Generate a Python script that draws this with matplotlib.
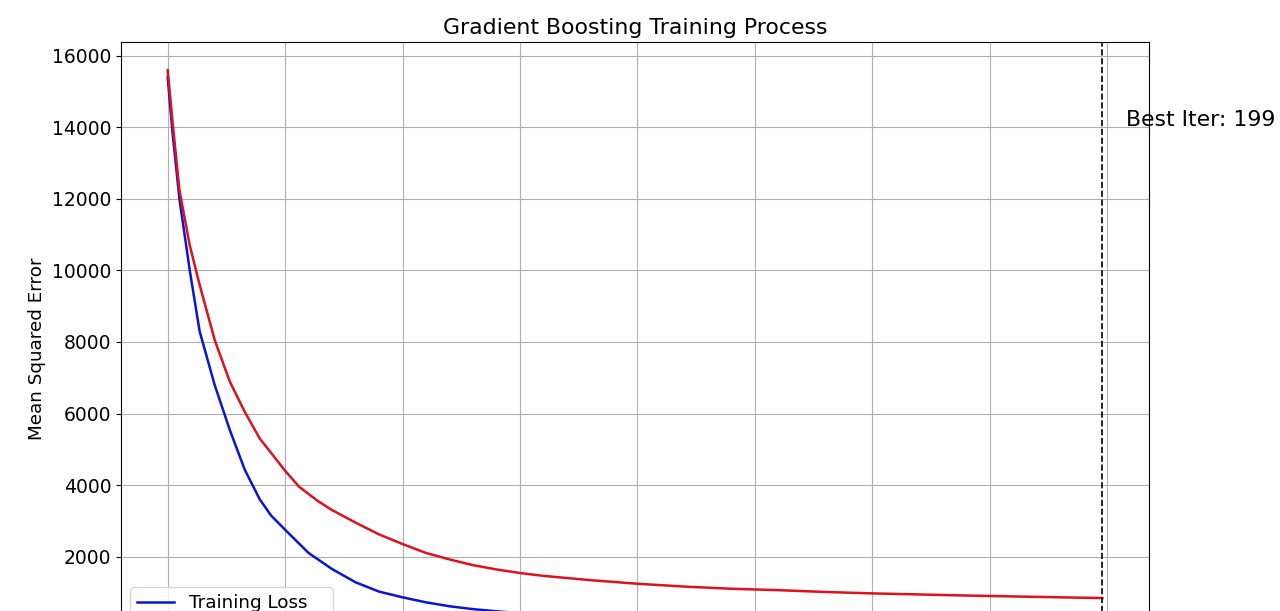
import matplotlib
matplotlib.use('Agg')
import matplotlib.pyplot as plt

best_iter = 199

train_it = [0, 1, 2.5, 4.7, 6.8, 10, 13.2, 16.4, 19.6, 22, 25, 30, 35, 40, 45, 50, 55, 60, 65, 70, 75, 85, 100, 120, 140, 160, 180, 199]
train_loss = [15400, 13900, 12000, 10000, 8300, 6800, 5550, 4430, 3600, 3150, 2750, 2100, 1650, 1280, 1020, 860, 720, 610, 530, 470, 420, 360, 300, 250, 210, 180, 160, 145]

val_it = [0, 1, 2.5, 4.7, 6.8, 10, 13.2, 16.4, 19.6, 22, 25, 28, 32, 35, 40, 45, 50, 55, 60, 65, 70, 75, 80, 90, 100, 110, 120, 130, 140, 150, 160, 170, 180, 190, 199]
val_loss = [15600, 14200, 12250, 10700, 9600, 8060, 6900, 6050, 5300, 4900, 4400, 3950, 3550, 3300, 2950, 2620, 2350, 2100, 1920, 1760, 1640, 1540, 1460, 1340, 1240, 1160, 1100, 1060, 1010, 970, 940, 910, 885, 860, 840]

fig = plt.figure(figsize=(12.8, 6.11), dpi=100)
ax = fig.add_axes([0.0945, -0.0736, 0.8032, 1.0049])

ax.plot(train_it, train_loss, color='#0a14d8', lw=1.8, label='Training Loss')
ax.plot(val_it, val_loss, color='#e0101c', lw=1.8, label='Validation Loss')
ax.axvline(best_iter, color='black', ls='--', lw=1.2)
ax.text(best_iter + 5, 14200, f'Best Iter: {best_iter}', fontsize=15.8, va='center')

ax.set_xlim(-9.95, 208.95)
ax.set_ylim(-780, 16390)
ax.set_xticks(range(0, 201, 25))
ax.set_yticks(range(0, 16001, 2000))
ax.tick_params(labelsize=13.5)
ax.set_ylabel('Mean Squared Error', fontsize=13.2)
ax.set_xlabel('Iteration', fontsize=13.2)
ax.set_title('Gradient Boosting Training Process', fontsize=15.8)
ax.grid(True)
ax.legend(loc='lower left', fontsize=13.2)

fig.savefig('out.png', dpi=100)
